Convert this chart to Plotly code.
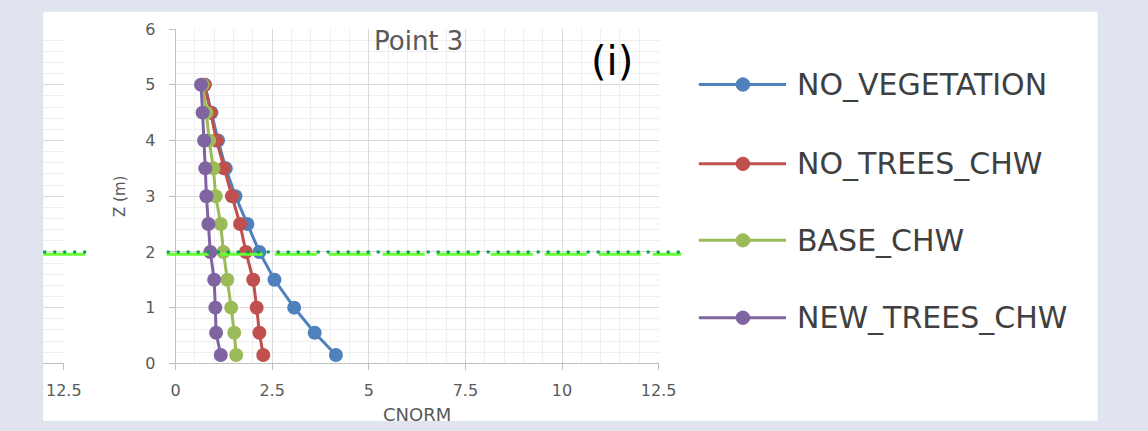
import plotly.graph_objects as go

# ---- data ----
z_levels = [0.15, 0.55, 1.0, 1.5, 2.0, 2.5, 3.0, 3.5, 4.0, 4.5, 5.0]
no_vegetation = [4.15, 3.60, 3.07, 2.56, 2.17, 1.86, 1.55, 1.30, 1.10, 0.93, 0.76]
no_trees_chw = [2.27, 2.17, 2.10, 2.01, 1.82, 1.67, 1.46, 1.25, 1.06, 0.91, 0.75]
base_chw = [1.57, 1.52, 1.44, 1.34, 1.24, 1.17, 1.04, 0.98, 0.87, 0.80, 0.70]
new_trees_chw = [1.17, 1.05, 1.03, 1.00, 0.90, 0.85, 0.80, 0.77, 0.74, 0.70, 0.66]

series_names = ["NO_VEGETATION", "NO_TREES_CHW", "BASE_CHW", "NEW_TREES_CHW"]
series_values = [no_vegetation, no_trees_chw, base_chw, new_trees_chw]
series_colors = ["#4F81BD", "#C0504D", "#9BBB59", "#8064A2"]

x_ticks = [0, 2.5, 5, 7.5, 10, 12.5]
x_tick_labels = ["0", "2.5", "5", "7.5", "10", "12.5"]
y_ticks = [0, 1, 2, 3, 4, 5, 6]
reference_height = 2.0

W, H = 1148, 431
FONT = "DejaVu Sans"
GRAY = "#595959"


def px(x):
    return x / W


def py(y):
    return 1 - y / H


fig = go.Figure()

for name, vals, col in zip(series_names, series_values, series_colors):
    fig.add_trace(go.Scatter(
        x=vals, y=z_levels, mode="lines+markers", name=name,
        line=dict(color=col, width=3),
        marker=dict(color=col, size=14),
        xaxis="x", yaxis="y", showlegend=False,
    ))

# invisible trace so the neighbouring (cut-off) chart's axes are drawn
fig.add_trace(go.Scatter(x=[12.4], y=[3], mode="markers", marker=dict(opacity=0),
                         xaxis="x2", yaxis="y2", showlegend=False, hoverinfo="skip"))

axis_common = dict(
    showgrid=True, gridcolor="#D9D9D9", gridwidth=1,
    zeroline=False, showline=True, linecolor="#BFBFBF", linewidth=1,
    ticks="outside", ticklen=6, tickcolor="#BFBFBF",
    tickfont=dict(family=FONT, size=16, color=GRAY),
)

fig.update_layout(
    width=W, height=H,
    margin=dict(l=0, r=0, t=0, b=0),
    paper_bgcolor="#DFE4EE",
    plot_bgcolor="rgba(0,0,0,0)",
    xaxis=dict(domain=[px(174), px(667)], range=[0, 12.5], tickvals=x_ticks,
               ticktext=x_tick_labels, anchor="y", ticklabelstandoff=6,
               minor=dict(dtick=0.5, showgrid=True, gridcolor="#EEEEEE"),
               **axis_common),
    yaxis=dict(domain=[py(370.7), py(21)], range=[0, 6], tickvals=y_ticks,
               anchor="x", ticklabelstandoff=10,
               minor=dict(dtick=0.2, showgrid=True, gridcolor="#EEEEEE"),
               **axis_common),
    xaxis2=dict(domain=[px(39), px(60)], range=[12.5 - 21 / 39.4, 12.5],
                tickvals=[12.5], ticktext=["12.5"], anchor="y2", ticklabelstandoff=6,
                **axis_common),
    yaxis2=dict(domain=[py(370.7), py(21)], range=[0, 6], tickvals=y_ticks,
                anchor="x2", showticklabels=False, showline=False, ticks="",
                showgrid=True, gridcolor="#D9D9D9", zeroline=False,
                minor=dict(dtick=0.2, showgrid=True, gridcolor="#EEEEEE")),
)

shapes = []
# white chart panel
shapes.append(dict(type="rect", xref="paper", yref="paper", x0=px(39), x1=px(1115),
                   y0=0, y1=py(3), fillcolor="white", line=dict(width=0), layer="below"))

# z = 2 m reference line (lime dashes + dark green dots), main and neighbouring chart
for x0, x1 in [(px(39), px(88)), (px(165), px(690))]:
    shapes.append(dict(type="line", xref="paper", yref="y", x0=x0, x1=x1,
                       y0=reference_height - 0.04, y1=reference_height - 0.04,
                       line=dict(color="#66FF33", width=3, dash="42px,12px"), layer="above"))
    shapes.append(dict(type="line", xref="paper", yref="y", x0=x0, x1=x1,
                       y0=reference_height, y1=reference_height,
                       line=dict(color="#00A050", width=3, dash="3px,7px"), layer="above"))

# manual legend (long line samples as in the reference)
legend_y = [79, 162, 242, 323]
annotations = []
for name, col, ly in zip(series_names, series_colors, legend_y):
    shapes.append(dict(type="line", xref="paper", yref="paper", x0=px(708), x1=px(797),
                       y0=py(ly), y1=py(ly), line=dict(color=col, width=3)))
    r = 7
    shapes.append(dict(type="circle", xref="paper", yref="paper",
                       x0=px(753 - r), x1=px(753 + r), y0=py(ly + r), y1=py(ly - r),
                       fillcolor=col, line=dict(color=col, width=1)))
    annotations.append(dict(text=name, xref="paper", yref="paper", x=px(806), y=py(ly),
                            xanchor="left", yanchor="middle", showarrow=False,
                            font=dict(family=FONT, size=30, color="#404040")))

annotations += [
    dict(text="Point 3", xref="paper", yref="paper", x=px(422), y=py(33),
         xanchor="center", yanchor="middle", showarrow=False,
         font=dict(family=FONT, size=26, color=GRAY)),
    dict(text="(i)", xref="paper", yref="paper", x=px(619), y=py(54),
         xanchor="center", yanchor="middle", showarrow=False,
         font=dict(family=FONT, size=40, color="black")),
    dict(text="Z (m)", xref="paper", yref="paper", x=px(118), y=py(196),
         xanchor="center", yanchor="middle", showarrow=False, textangle=-90,
         font=dict(family=FONT, size=15, color=GRAY)),
    dict(text="CNORM", xref="paper", yref="paper", x=px(420), y=py(424),
         xanchor="center", yanchor="middle", showarrow=False,
         font=dict(family=FONT, size=18, color=GRAY)),
]

fig.update_layout(shapes=shapes, annotations=annotations)
fig.write_html("out.html")
